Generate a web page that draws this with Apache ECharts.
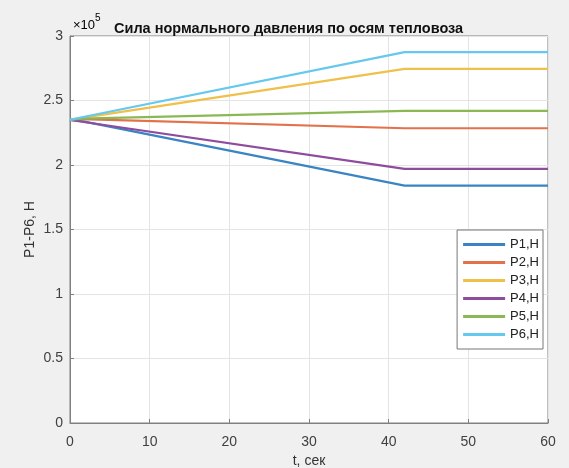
<!DOCTYPE html>
<html><head><meta charset="utf-8">
<script src="https://cdn.jsdelivr.net/npm/echarts@6/dist/echarts.min.js"></script>
<style>html,body{margin:0;padding:0;background:#f0f0f0}#c{width:569px;height:468px}</style>
</head><body><div id="c"></div>
<script>
// time points, seconds
var times = [0, 1.5, 42, 60];
// forces, N
var P1 = [235000, 234000, 184000, 184000];
var P2 = [235000, 235500, 228500, 228500];
var P3 = [235000, 236500, 274500, 274500];
var P4 = [235000, 233500, 197000, 197000];
var P5 = [235000, 236000, 242000, 242000];
var P6 = [235000, 237000, 287500, 287500];
var seriesNames = ['P1,H','P2,H','P3,H','P4,H','P5,H','P6,H'];
var seriesData = [P1,P2,P3,P4,P5,P6];
var colors = ['#3a84c4','#e3714a','#efc04a','#8e4c9e','#8ab954','#66c8ee'];
var xTicks = [0,10,20,30,40,50,60];
var yTicks = [0,0.5,1,1.5,2,2.5,3];

var chart = echarts.init(document.getElementById('c'));
var font = 'Liberation Sans, Arial, sans-serif';
chart.setOption({
  backgroundColor:'#f0f0f0',
  animation:false,
  color: colors,
  title:{text:'Сила нормального давления по осям тепловоза', left:109, top:16,
    textStyle:{fontFamily:font,fontSize:14.5,fontWeight:'bold',color:'#111'}},
  graphic:[{type:'text', left:73, top:13, style:{
    text:'{a|×10}{b|5}', rich:{a:{fontFamily:font,fontSize:13,color:'#444',padding:[6,0,0,0]},b:{fontFamily:font,fontSize:10,color:'#444',verticalAlign:'top',padding:[0,0,6,0]}}}}],
  grid:{left:70,right:21,top:36,bottom:45,show:true,backgroundColor:'#fff',borderColor:'#808080',borderWidth:1,
    containLabel:false, outerBoundsMode:'none'},
  legend:{orient:'vertical', right:26, top:230, itemWidth:42, itemHeight:3, itemGap:5,
    backgroundColor:'#fff', borderColor:'#777', borderWidth:1, padding:[8,4,8,6],
    icon:'rect',
    textStyle:{fontFamily:font,fontSize:13,color:'#222'}, data:seriesNames},
  xAxis:{type:'value', min:0, max:60, interval:10,
    name:'t, сек', nameLocation:'middle', nameGap:31, nameMoveOverlap:false,
    nameTextStyle:{fontFamily:font,fontSize:14,color:'#333'},
    axisLine:{show:true,lineStyle:{color:'#808080'}},
    axisTick:{inside:true,length:4,lineStyle:{color:'#808080'}},
    axisLabel:{fontFamily:font,fontSize:14,color:'#404040',margin:12,
      formatter:function(v){return xTicks.indexOf(v)>=0?String(v):'';}},
    splitLine:{show:true,lineStyle:{color:'#e4e4e4'}}},
  yAxis:{type:'value', min:0, max:300000, interval:50000,
    name:'P1-P6, H', nameLocation:'middle', nameGap:33, nameRotate:90, nameMoveOverlap:false,
    nameTextStyle:{fontFamily:font,fontSize:14,color:'#333'},
    axisLine:{show:true,lineStyle:{color:'#808080'}},
    axisTick:{inside:true,length:4,lineStyle:{color:'#808080'}},
    axisLabel:{fontFamily:font,fontSize:14,color:'#404040',margin:7,
      formatter:function(v){var t=v/1e5;return yTicks.indexOf(t)>=0?String(t):'';}},
    splitLine:{show:true,lineStyle:{color:'#e4e4e4'}}},
  series: seriesNames.map(function(n,i){
    return {name:n,type:'line',showSymbol:false,symbol:'none',
      lineStyle:{width:2.2},
      data: times.map(function(t,j){return [t, seriesData[i][j]];})};
  })
});
</script></body></html>
